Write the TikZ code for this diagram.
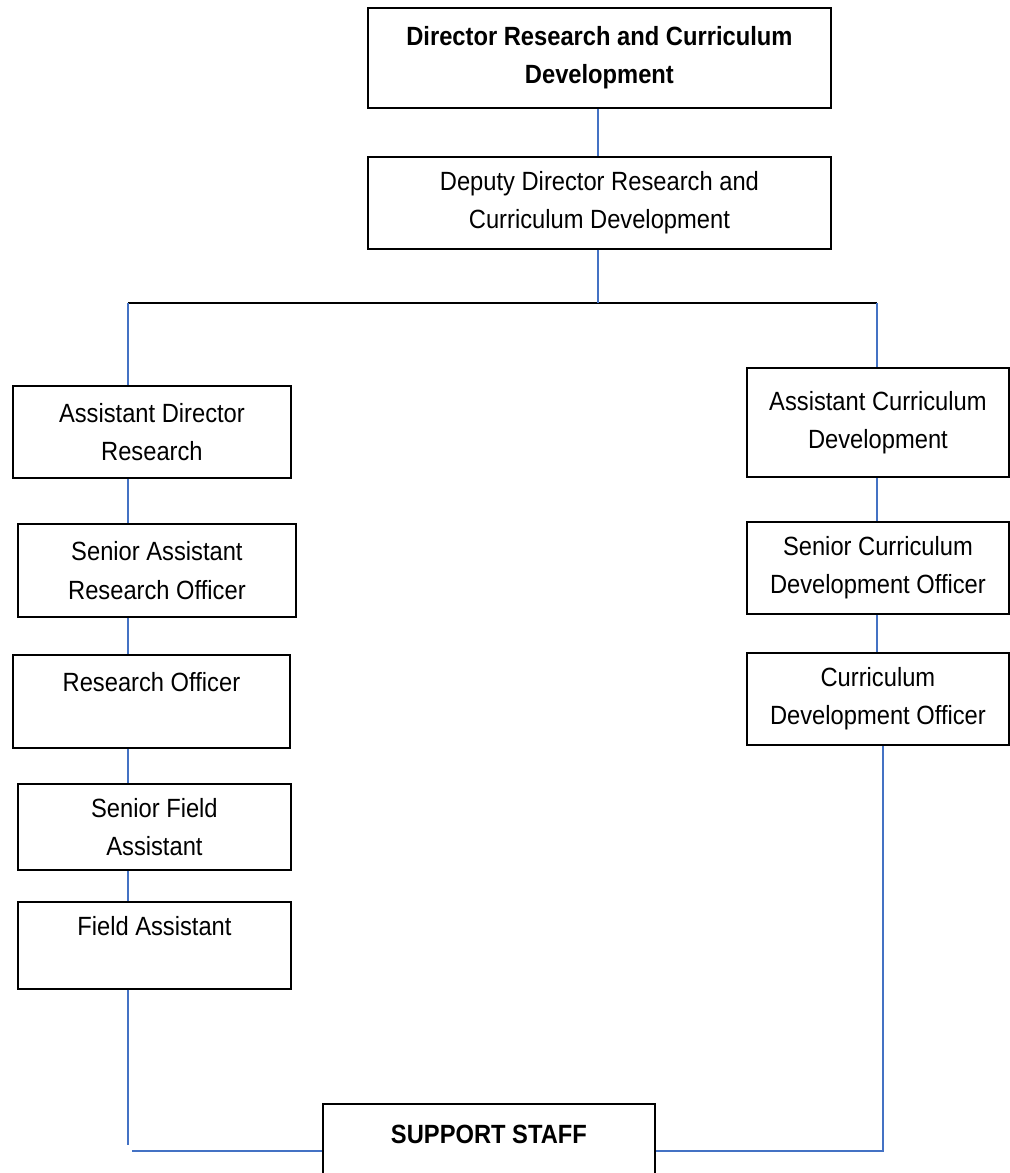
\documentclass[tikz,border=0pt]{standalone}
\usepackage{fontspec}
\setmainfont{Liberation Sans}[FakeStretch=0.9]
\usepackage{tikz}
\usetikzlibrary{positioning}
\definecolor{linkblue}{HTML}{4472C4}
\newcommand{\chartfont}{\fontsize{15}{21.8}\selectfont}

\begin{document}
\begin{tikzpicture}[x=0.02cm,y=-0.02cm,font=\chartfont]
\tikzstyle{post}=[draw=black,line width=1.1pt,align=center,inner sep=0pt,anchor=north west]
\tikzstyle{link}=[draw=linkblue,line width=1pt]
\useasboundingbox (0,0) rectangle (1009,1173);
% top of the chart
\node[post,font=\chartfont\bfseries,minimum width=9.26cm,minimum height=2cm] (dir) at (367,7) {Director Research and Curriculum\\Development};
\node[post,minimum width=9.26cm,minimum height=1.84cm] (dep) at (367,156) {Deputy Director Research and\\Curriculum Development};
% research branch
\node[post,minimum width=5.56cm,minimum height=1.84cm] (adr) at (12,385) {Assistant Director\\Research};
\node[post,minimum width=5.56cm,minimum height=1.86cm] (sar) at (17,523) {Senior Assistant\\Research Officer};
\node[post,minimum width=5.54cm,minimum height=1.86cm] (ro) at (12,654) {Research Officer\\~};
\node[post,minimum width=5.46cm,minimum height=1.72cm] (sfa) at (17,783) {Senior Field\\Assistant};
\node[post,minimum width=5.46cm,minimum height=1.74cm] (fa) at (17,901) {Field Assistant\\~};
% curriculum branch
\node[post,minimum width=5.24cm,minimum height=2.18cm] (acd) at (746,367) {Assistant Curriculum\\Development};
\node[post,minimum width=5.24cm,minimum height=1.84cm] (scdo) at (746,521) {Senior Curriculum\\Development Officer};
\node[post,minimum width=5.24cm,minimum height=1.84cm] (cdo) at (746,652) {Curriculum\\Development Officer};
% support staff
\node[post,font=\chartfont\bfseries,minimum width=6.64cm,minimum height=1.96cm] (ss) at (322,1103) {SUPPORT STAFF\\~};
% connectors
\coordinate (lbus) at (128,303);
\coordinate (mbus) at (598,303);
\coordinate (rbus) at (877,303);
\draw[line width=1.1pt] (lbus) -- (rbus);
\draw[link] (mbus |- dir.south) -- (mbus |- dep.north);
\draw[link] (mbus |- dep.south) -- (mbus);
\draw[link] (lbus) -- (lbus |- adr.north);
\draw[link] (rbus) -- (rbus |- acd.north);
\foreach \a/\b in {adr/sar,sar/ro,ro/sfa,sfa/fa}
  \draw[link] (lbus |- \a.south) -- (lbus |- \b.north);
\foreach \a/\b in {acd/scdo,scdo/cdo}
  \draw[link] (rbus |- \a.south) -- (rbus |- \b.north);
\coordinate (lfoot) at (128,1145);
\coordinate (lturn) at (132,1151);
\coordinate (rturn) at (883,1151);
\draw[link] (lbus |- fa.south) -- (lfoot);
\draw[link] (lturn) -- (lturn -| ss.west);
\draw[link] (rturn -| ss.east) -- (rturn) -- (rturn |- cdo.south);
\end{tikzpicture}
\end{document}
